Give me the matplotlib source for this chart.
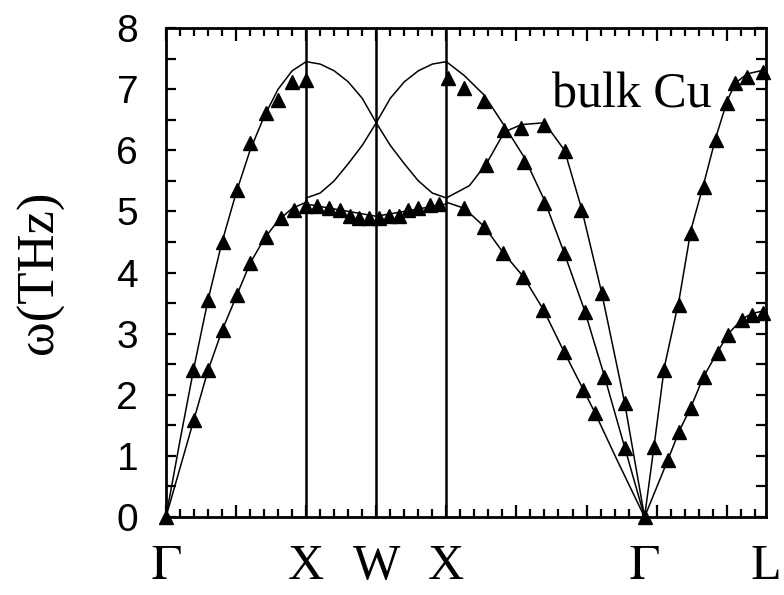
import numpy as np
import matplotlib.pyplot as plt
from matplotlib.ticker import MultipleLocator
import matplotlib.transforms as mtransforms

# high symmetry points along the path (units of 2pi/a)
kpts = [0.0, 1.0, 1.5, 2.0, 3.414, 4.280]
klabels = [r'$\Gamma$', 'X', 'W', 'X', r'$\Gamma$', 'L']

# calculated branches (lines)
k_gx = [0, 0.1, 0.2, 0.3, 0.4, 0.5, 0.6, 0.7, 0.8, 0.9, 1.0]
w_gx_L = [0, 1.25, 2.45, 3.55, 4.5, 5.3, 6.0, 6.55, 7.0, 7.3, 7.45]
w_gx_T = [0, 0.8, 1.6, 2.4, 3.05, 3.6, 4.15, 4.55, 4.85, 5.05, 5.15]

k_xwx = [1.0, 1.1, 1.2, 1.3, 1.4, 1.5, 1.6, 1.7, 1.8, 1.9, 2.0]
w_xwx_1 = [7.45, 7.41, 7.3, 7.12, 6.85, 6.45, 6.08, 5.78, 5.5, 5.3, 5.22]
w_xwx_2 = [5.22, 5.3, 5.5, 5.78, 6.08, 6.45, 6.85, 7.12, 7.3, 7.41, 7.45]
k_flat = [1.0, 1.25, 1.5, 1.75, 2.0]
w_flat = [5.12, 5.02, 4.92, 5.02, 5.12]

k_xg_A = [2.0, 2.129, 2.271, 2.407, 2.55, 2.693, 2.836, 2.978, 3.057, 3.214, 3.414]
w_xg_A = [5.15, 5.05, 4.75, 4.32, 3.93, 3.39, 2.72, 2.08, 1.72, 0.95, 0]
k_xg_B = [2.0, 2.129, 2.271, 2.414, 2.557, 2.700, 2.836, 2.986, 3.128, 3.271, 3.414]
w_xg_B = [7.45, 7.22, 6.9, 6.4, 5.88, 5.18, 4.35, 3.38, 2.3, 1.15, 0]
k_xg_C = [2.0, 2.164, 2.286, 2.414, 2.536, 2.700, 2.843, 2.964, 3.107, 3.271, 3.414]
w_xg_C = [5.22, 5.42, 5.78, 6.3, 6.42, 6.45, 6.0, 5.05, 3.68, 1.88, 0]

k_gl_L = [3.414, 3.484, 3.555, 3.660, 3.745, 3.836, 3.921, 4.005, 4.062, 4.146, 4.28]
w_gl_L = [0, 1.2, 2.45, 3.55, 4.7, 5.45, 6.2, 6.82, 7.1, 7.25, 7.32]
k_gl_T = [3.414, 3.583, 3.660, 3.745, 3.836, 3.935, 4.012, 4.111, 4.181, 4.28]
w_gl_T = [0, 0.95, 1.4, 1.8, 2.3, 2.7, 3.0, 3.24, 3.33, 3.38]

lines = [(k_gx, w_gx_L), (k_gx, w_gx_T), (k_xwx, w_xwx_1), (k_xwx, w_xwx_2),
         (k_flat, w_flat), (k_xg_A, w_xg_A), (k_xg_B, w_xg_B), (k_xg_C, w_xg_C),
         (k_gl_L, w_gl_L), (k_gl_T, w_gl_T)]

# measured points (triangles)
kexp = [0.0, 0.19, 0.30, 0.41, 0.51, 0.60, 0.71, 0.80, 0.90, 1.0,
        0.20, 0.30, 0.41, 0.51, 0.60, 0.71, 0.82, 0.91,
        1.0, 1.08, 1.16, 1.24, 1.31, 1.38, 1.45, 1.52, 1.59, 1.66, 1.73, 1.80, 1.88, 1.95,
        2.014, 2.129, 2.271, 2.414, 2.557, 2.700, 2.836, 2.986, 3.128, 3.271,
        2.286, 2.536, 2.700, 2.843, 2.964, 3.107, 3.271,
        2.129, 2.271, 2.407, 2.55, 2.693, 2.836, 2.978, 3.057,
        3.414,
        3.484, 3.555, 3.660, 3.745, 3.836, 3.921, 4.005, 4.062, 4.146, 4.259,
        3.583, 3.660, 3.745, 3.836, 3.935, 4.012, 4.111, 4.181, 4.259]
wexp = [0.0, 2.41, 3.55, 4.5, 5.35, 6.12, 6.61, 6.82, 7.12, 7.15,
        1.59, 2.41, 3.06, 3.63, 4.15, 4.58, 4.89, 5.02,
        5.08, 5.08, 5.06, 5.02, 4.92, 4.9, 4.9, 4.9, 4.92, 4.93, 5.02, 5.06, 5.1, 5.12,
        7.18, 7.02, 6.8, 6.33, 5.81, 5.13, 4.32, 3.36, 2.29, 1.13,
        5.76, 6.37, 6.42, 5.98, 5.02, 3.66, 1.87,
        5.06, 4.75, 4.32, 3.93, 3.39, 2.70, 2.08, 1.70,
        0.0,
        1.15, 2.41, 3.47, 4.65, 5.4, 6.17, 6.78, 7.1, 7.2, 7.28,
        0.93, 1.39, 1.78, 2.29, 2.68, 2.98, 3.22, 3.31, 3.34]

fig = plt.figure(figsize=(7.84, 5.95), dpi=100)
ax = fig.add_axes([0.2117, 0.1311, 0.7653, 0.8218])

for kk, ww in lines:
    ax.plot(kk, ww, color='black', lw=1.1)

for k in kpts[1:4]:
    ax.axvline(k, color='black', lw=1.8)

ax.plot(kexp, wexp, linestyle='none', marker='^', ms=10, color='black',
        clip_on=False, zorder=5)

ax.set_xlim(kpts[0], kpts[-1])
ax.set_ylim(0, 8)

ax.xaxis.set_major_locator(MultipleLocator(0.5))
ax.xaxis.set_minor_locator(MultipleLocator(0.1))
ax.yaxis.set_major_locator(MultipleLocator(1))
ax.yaxis.set_minor_locator(MultipleLocator(0.5))
ax.set_xticklabels([])
ax.tick_params(axis='both', which='both', direction='in', top=True, right=True, width=1.6)
ax.tick_params(axis='x', which='major', length=9)
ax.tick_params(axis='x', which='minor', length=6)
ax.tick_params(axis='y', which='both', length=7, pad=20)
ax.tick_params(axis='y', which='major', labelsize=28)
for lab in ax.get_yticklabels():
    lab.set_family(['Liberation Sans Narrow', 'Liberation Sans'])
for s in ax.spines.values():
    s.set_linewidth(2)

# symmetry point labels under the axis
trans = mtransforms.blended_transform_factory(ax.transData, ax.transAxes)
for k, lab in zip(kpts, klabels):
    ax.text(k, -0.055, lab, transform=trans, ha='center', va='top',
            fontsize=36, family='Liberation Serif', math_fontfamily='stix')

ax.text(0.643, 0.838, 'bulk Cu', transform=ax.transAxes, fontsize=36,
        family='Liberation Serif')

fig.text(0.051, 0.543, r'ω(THz)', rotation=90, ha='center', va='center',
         fontsize=38, family='Liberation Serif')

plt.savefig('out.png', dpi=100)
